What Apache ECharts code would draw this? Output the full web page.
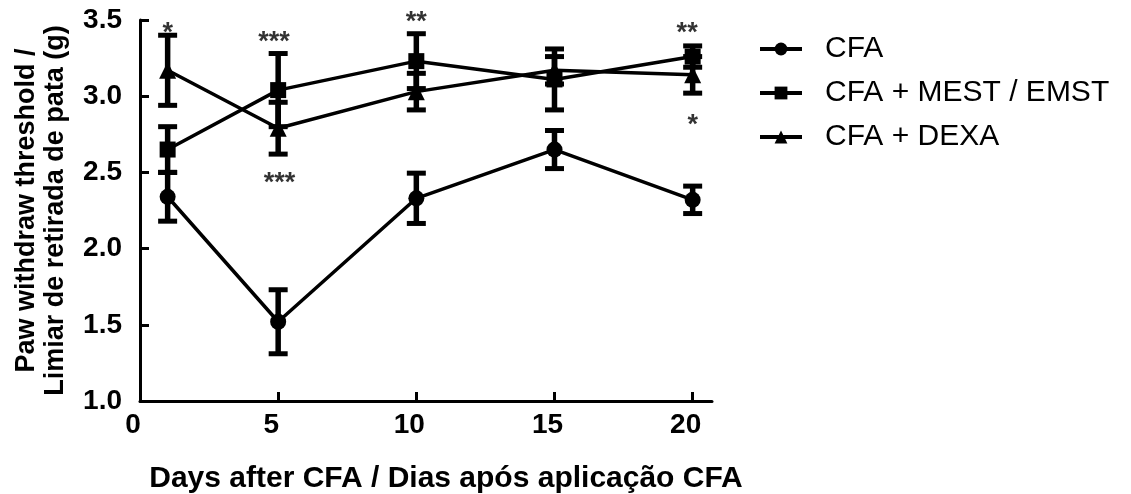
<!DOCTYPE html>
<html>
<head>
<meta charset="utf-8">
<script src="https://cdn.jsdelivr.net/npm/echarts@6/dist/echarts.min.js"></script>
<style>
html,body{margin:0;padding:0;background:#fff;}
#chart{width:1131px;height:494px;}
</style>
</head>
<body>
<div id="chart"></div>
<script>
// ---- data ----
const days = [1, 5, 10, 15, 20];
const seriesNames = ['CFA', 'CFA + MEST / EMST', 'CFA + DEXA'];
const cfaMean  = [2.34, 1.52, 2.33, 2.65, 2.32];
const cfaErr   = [0.16, 0.21, 0.165, 0.125, 0.09];
const mestMean = [2.65, 3.04, 3.23, 3.11, 3.26];
const mestErr  = [0.15, 0.24, 0.18, 0.20, 0.07];
const dexaMean = [3.17, 2.79, 3.03, 3.17, 3.14];
const dexaErr  = [0.23, 0.17, 0.12, 0.09, 0.12];
const xTickLabels = [0, 5, 10, 15, 20];
const yTickLabels = [1.0, 1.5, 2.0, 2.5, 3.0, 3.5];
// significance marks: [day, value, text]
const annotations = [
  [1, 3.46, '*'],
  [4.85, 3.40, '***'],
  [5.05, 2.47, '***'],
  [10, 3.53, '**'],
  [19.8, 3.46, '**'],
  [20, 2.855, '*']
];

const FONT = '"Liberation Sans", Arial, sans-serif';

function pairs(mean){ return days.map((d,i)=>[d, mean[i]]); }
function triples(mean, err){ return days.map((d,i)=>[d, mean[i], err[i]]); }

function renderErr(params, api){
  const x = api.value(0), m = api.value(1), e = api.value(2);
  const top = api.coord([x, m + e]);
  const bot = api.coord([x, m - e]);
  const hw = 9.5;
  const st = {stroke:'#000', lineWidth:5};
  return {type:'group', children:[
    {type:'line', shape:{x1:top[0], y1:top[1], x2:bot[0], y2:bot[1]}, style:{stroke:'#000', lineWidth:5.5}},
    {type:'line', shape:{x1:top[0]-hw, y1:top[1], x2:top[0]+hw, y2:top[1]}, style:st},
    {type:'line', shape:{x1:bot[0]-hw, y1:bot[1], x2:bot[0]+hw, y2:bot[1]}, style:st}
  ]};
}

function lineSeries(name, mean, symbol){
  return {
    name: name, type:'line', data: pairs(mean),
    symbol: symbol, symbolSize: symbol === 'triangle' ? 17 : 16,
    lineStyle:{color:'#000', width:3.5},
    itemStyle:{color:'#000'},
    z: 3
  };
}
function errSeries(mean, err){
  return {type:'custom', renderItem: renderErr, data: triples(mean, err),
    encode:{x:0, y:1}, z: 2, silent:true};
}

const chart = echarts.init(document.getElementById('chart'));
chart.setOption({
  animation:false,
  backgroundColor:'#fff',
  grid:{left:140, right:419, top:20, bottom:93, containLabel:false, outerBoundsMode:'none'},
  legend:{
    orient:'vertical', left:758, top:34, padding:0, itemGap:14,
    itemWidth:42, itemHeight:16,
    data: seriesNames,
    lineStyle:{width:4, color:'#000'},
    textStyle:{fontFamily:FONT, fontSize:30, color:'#000', padding:[0,0,0,18]}
  },
  xAxis:{
    type:'value', min:0, max:20.7,
    name:'Days after CFA / Dias após aplicação CFA',
    nameLocation:'middle', nameGap:63,
    nameTextStyle:{fontFamily:FONT, fontSize:30, fontWeight:'bold', color:'#000', padding:[0,0,0,40]},
    axisLine:{show:true, lineStyle:{color:'#000', width:3}},
    axisTick:{show:true, inside:true, length:9, lineStyle:{color:'#000', width:3}, customValues: xTickLabels.slice(1)},
    axisLabel:{fontFamily:FONT, fontSize:28, fontWeight:'bold', color:'#000', margin:10, padding:[0,14,0,0],
      customValues: xTickLabels, formatter: v => String(v)},
    splitLine:{show:false}
  },
  yAxis:{
    type:'value', min:1, max:3.5, interval:0.5,
    name:'Paw withdraw threshold /\nLimiar de retirada de pata (g)',
    nameLocation:'middle', nameGap:70, nameRotate:90,
    nameTextStyle:{fontFamily:FONT, fontSize:27, fontWeight:'bold', color:'#000', lineHeight:29, align:'center'},
    axisLine:{show:true, lineStyle:{color:'#000', width:3}},
    axisTick:{show:true, inside:true, length:9, lineStyle:{color:'#000', width:3}},
    axisLabel:{fontFamily:FONT, fontSize:28, fontWeight:'bold', color:'#000', margin:18,
      customValues: yTickLabels, formatter: v => Number(v).toFixed(1)},
    splitLine:{show:false}
  },
  series:[
    errSeries(cfaMean, cfaErr),
    errSeries(mestMean, mestErr),
    errSeries(dexaMean, dexaErr),
    lineSeries(seriesNames[0], cfaMean, 'circle'),
    lineSeries(seriesNames[1], mestMean, 'rect'),
    lineSeries(seriesNames[2], dexaMean, 'triangle'),
    {
      type:'scatter', data: annotations, symbolSize:0, clip:false, silent:true,
      encode:{x:0, y:1},
      label:{show:true, position:'inside', offset:[0,7], formatter: p => p.data[2],
        fontFamily:FONT, fontSize:27, fontWeight:'bold', color:'#000'},
      z: 4
    }
  ]
});
</script>
</body>
</html>
